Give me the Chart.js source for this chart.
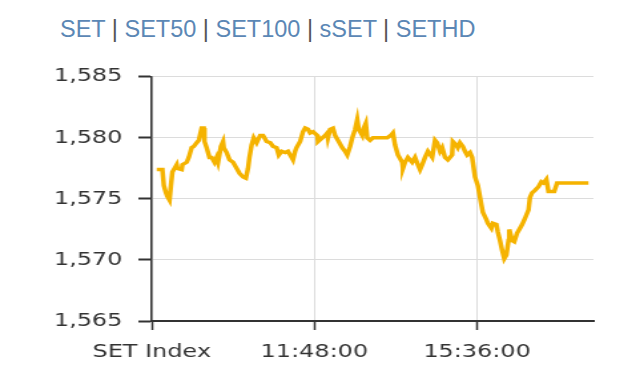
<!DOCTYPE html>
<html>
<head>
<meta charset="utf-8">
<script src="https://cdn.jsdelivr.net/npm/chart.js@4"></script>
<style>
  html, body { margin: 0; padding: 0; background: #fff; }
  body { width: 640px; height: 390px; position: relative; overflow: hidden; }
  #title {
    position: absolute; left: 60px; top: 17px;
    font-family: "Liberation Sans", Arial, sans-serif; font-size: 23.5px; line-height: 24px;
    color: #5b87b5; white-space: nowrap;
  }
  #title .sep { color: #555; }
  /* the reference chart is stretched sideways, so draw narrow and scale it out */
  #wrap { position: absolute; left: 0; top: 54px; width: 481px; height: 336px; transform: scaleX(1.3306); transform-origin: 0 0; }
</style>
</head>
<body>
<div id="title"></div>
<div id="wrap"><canvas id="chart"></canvas></div>
<script>
const indexNames = ['SET', 'SET50', 'SET100', 'sSET', 'SETHD'];

const times = [
  '8:07','8:15','8:17','8:20','8:22','8:25','8:27','8:29','8:32','8:35','8:36','8:42','8:43','8:49','8:52','8:56','8:59',
  '9:03','9:06','9:10','9:13','9:14','9:17','9:21','9:24','9:28','9:31','9:33','9:37','9:40','9:41','9:45','9:49','9:54','9:59',
  '10:03','10:08','10:12','10:15','10:17','10:20','10:23','10:27','10:32','10:36','10:41','10:46','10:50','10:55','10:58',
  '11:02','11:07','11:11','11:16','11:18','11:21','11:23','11:28','11:32','11:35','11:39','11:42','11:46','11:52','11:53','11:59',
  '12:03','12:06','12:07','12:10','12:14','12:17','12:21','12:27','12:31','12:34','12:38','12:41','12:45','12:48','12:50','12:55','12:57',
  '13:00','13:02','13:06','13:10','13:30','13:35','13:38','13:41','13:45','13:51','13:52','13:55','13:59',
  '14:05','14:09','14:13','14:16','14:19','14:23','14:27','14:33','14:37','14:40','14:44','14:47','14:51','14:55',
  '15:01','15:02','15:07','15:09','15:12','15:16','15:19','15:22','15:26','15:29','15:30','15:33','15:37','15:42','15:44','15:49','15:51','15:56','15:58',
  '16:03','16:05','16:08','16:11','16:14','16:17','16:20','16:21','16:25','16:28','16:32','16:35','16:39','16:43','16:48','16:50','16:53','16:57',
  '17:02','17:06','17:09','17:13','17:16','17:24','17:28','18:12'
];

const values = [
  1577.4,1577.4,1576.1,1575.5,1575.2,1574.9,1576.1,1577.2,1577.5,1577.8,1577.5,1577.4,1577.8,1578.0,1578.4,1579.2,1579.3,
  1579.6,1579.8,1580.8,1580.8,1579.7,1579.2,1578.4,1578.4,1578.0,1578.4,1578.0,1579.3,1579.7,1579.2,1578.8,1578.2,1578.0,1577.5,
  1577.1,1576.8,1576.7,1577.5,1578.4,1579.4,1580.0,1579.6,1580.2,1580.2,1579.7,1579.6,1579.3,1579.2,1578.6,
  1578.9,1578.8,1578.9,1578.4,1578.2,1578.9,1579.2,1579.7,1580.5,1580.8,1580.7,1580.4,1580.5,1580.2,1579.7,1580.0,
  1580.2,1580.4,1580.0,1580.7,1580.8,1580.2,1579.8,1579.2,1578.9,1578.6,1579.3,1580.0,1580.7,1581.5,1580.7,1580.2,1580.8,
  1581.2,1580.0,1579.8,1580.0,1580.0,1580.2,1580.4,1579.4,1578.6,1578.0,1577.5,1578.0,1578.4,
  1578.0,1578.4,1577.8,1577.4,1577.8,1578.4,1578.9,1578.4,1579.8,1579.6,1578.9,1579.2,1578.4,1578.2,
  1578.6,1579.7,1579.4,1579.2,1579.6,1579.3,1578.9,1578.6,1578.8,1578.4,1578.0,1576.8,1576.1,1574.5,1573.9,1573.3,1573.0,1572.6,1573.0,
  1572.9,1572.3,1571.6,1570.8,1570.1,1570.4,1571.6,1572.5,1571.6,1571.5,1572.2,1572.5,1572.9,1573.4,1574.1,1575.1,1575.5,1575.7,
  1576.0,1576.4,1576.3,1576.6,1575.6,1575.6,1576.3,1576.3
];

const yTicks = [1565, 1570, 1575, 1580, 1585];
const xTickTimes = ['8:00', '11:48', '15:36'];
const xTickLabels = ['SET Index', '11:48:00', '15:36:00'];
const xEnd = '18:19';

const toMin = t => { const [h, m] = t.split(':').map(Number); return h * 60 + m; };

document.getElementById('title').innerHTML =
  indexNames.map(n => `<span>${n}</span>`).join('<span class="sep"> | </span>');

Chart.defaults.font.family = '"DejaVu Sans", Verdana, sans-serif';
Chart.defaults.font.size = 18;

new Chart(document.getElementById('chart'), {
  type: 'line',
  data: {
    datasets: [{
      data: times.map((t, i) => ({ x: toMin(t), y: values[i] })),
      borderColor: '#f5b300',
      borderWidth: 3.5,
      pointRadius: 0,
      tension: 0,
      fill: false
    }]
  },
  options: {
    responsive: true,
    maintainAspectRatio: false,
    animation: false,
    layout: { padding: { top: 17, right: 35, bottom: 0, left: 0 } },
    plugins: { legend: { display: false }, tooltip: { enabled: false } },
    scales: {
      x: {
        type: 'linear',
        min: toMin(xTickTimes[0]),
        max: toMin(xEnd),
        afterBuildTicks: s => { s.ticks = xTickTimes.map(t => ({ value: toMin(t) })); },
        afterFit: s => { s.height = 69; },
        ticks: { callback: (v, i) => xTickLabels[i], padding: 12, maxRotation: 0, autoSkip: false, color: '#333' },
        grid: { color: '#dcdcdc', lineWidth: 1, tickColor: '#333', tickLength: 9, tickWidth: 1.5 },
        border: { color: '#333', width: 2 }
      },
      y: {
        min: yTicks[0],
        max: yTicks[yTicks.length - 1],
        afterBuildTicks: s => { s.ticks = yTicks.map(v => ({ value: v })); },
        afterFit: s => { s.width = 114; },
        ticks: { callback: v => v.toLocaleString('en-US'), padding: 12, color: '#333' },
        grid: { color: '#dcdcdc', lineWidth: 1, tickColor: '#333', tickLength: 10, tickWidth: 2 },
        border: { color: '#333', width: 1.5 }
      }
    }
  }
});
</script>
</body>
</html>
